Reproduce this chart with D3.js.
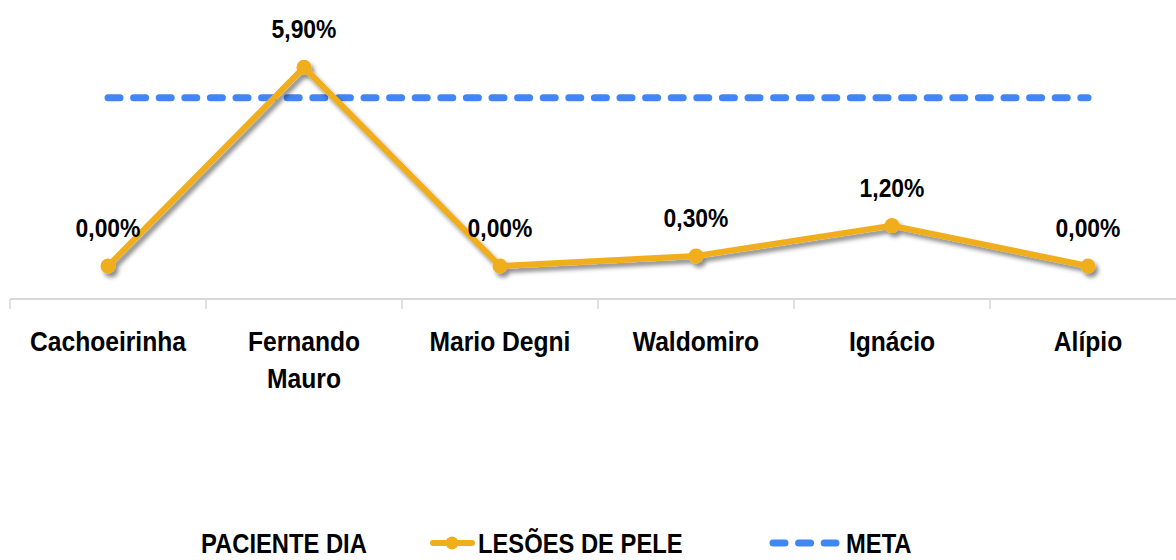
<!DOCTYPE html>
<html lang="pt">
<head>
<meta charset="utf-8">
<script src="https://d3js.org/d3.v7.min.js"></script>
<style>
  body { margin: 0; background: #fff; }
  text { font-family: "Liberation Sans", Arial, sans-serif; font-weight: bold; fill: #000; }
</style>
</head>
<body>
<svg width="1176" height="560"></svg>
<script>
// data
var categories = ["Cachoeirinha", "Fernando Mauro", "Mario Degni", "Waldomiro", "Ignácio", "Alípio"];
var lesoes = [0.0, 5.9, 0.0, 0.3, 1.2, 0.0];
var meta = 5.0;
var legendLabels = ["PACIENTE DIA", "LESÕES DE PELE", "META"];

var svg = d3.select("svg");
var gold = "#F0AE1C", blue = "#4285F4";
var narrow = 0.88; // fake a narrow font

var x = d3.scaleBand().domain(categories).range([10, 1186]);
var y = d3.scaleLinear().domain([0, 6]).range([266, 64]);
var cx = function(d) { return x(d) + x.bandwidth() / 2; };

// narrow text helper
function ntext(px, py, str, size, anchor) {
  return svg.append("g")
      .attr("transform", "translate(" + px + "," + py + ") scale(" + narrow + ",1)")
    .append("text")
      .attr("text-anchor", anchor || "middle")
      .attr("font-size", size)
      .text(str);
}

var defs = svg.append("defs");
defs.append("filter").attr("id", "shadow")
    .attr("x", "-10%").attr("y", "-10%").attr("width", "120%").attr("height", "130%")
  .append("feDropShadow")
    .attr("dx", 3).attr("dy", 4).attr("stdDeviation", 2)
    .attr("flood-color", "#000").attr("flood-opacity", 0.45);

// axis line + ticks at band boundaries
svg.append("line")
    .attr("x1", 10).attr("x2", 1176).attr("y1", 299).attr("y2", 299)
    .attr("stroke", "#d9d9d9").attr("stroke-width", 2);
var bounds = categories.map(function(d) { return x(d); });
svg.selectAll(".tick").data(bounds).enter().append("line")
    .attr("x1", function(d) { return d; }).attr("x2", function(d) { return d; })
    .attr("y1", 299).attr("y2", 309)
    .attr("stroke", "#d9d9d9").attr("stroke-width", 1.5);

// category labels
categories.forEach(function(d) {
  var words = d === "Fernando Mauro" ? ["Fernando", "Mauro"] : [d];
  words.forEach(function(w, i) {
    ntext(cx(d), 351 + i * 37, w, 28);
  });
});

// meta line
svg.append("line")
    .attr("x1", cx(categories[0])).attr("x2", cx(categories[5]))
    .attr("y1", y(meta)).attr("y2", y(meta))
    .attr("stroke", blue).attr("stroke-width", 7)
    .attr("stroke-linecap", "round")
    .attr("stroke-dasharray", "12 13.6");

// lesoes line
var line = d3.line()
    .x(function(d, i) { return cx(categories[i]); })
    .y(function(d) { return y(d); });

var lg = svg.append("g").attr("filter", "url(#shadow)");
lg.append("path")
    .datum(lesoes)
    .attr("d", line)
    .attr("fill", "none")
    .attr("stroke", gold).attr("stroke-width", 6)
    .attr("stroke-linejoin", "round");
lg.selectAll("circle").data(lesoes).enter().append("circle")
    .attr("cx", function(d, i) { return cx(categories[i]); })
    .attr("cy", function(d) { return y(d); })
    .attr("r", 7.5)
    .attr("fill", gold);

// value labels
lesoes.forEach(function(d, i) {
  ntext(cx(categories[i]), y(d) - 29, d.toFixed(2).replace(".", ",") + "%", 26);
});

// legend
var ly = 553;
ntext(201, ly, legendLabels[0], 27, "start");

svg.append("line").attr("x1", 433).attr("x2", 472).attr("y1", ly - 10).attr("y2", ly - 10)
    .attr("stroke", gold).attr("stroke-width", 6).attr("stroke-linecap", "round");
svg.append("circle").attr("cx", 452).attr("cy", ly - 10).attr("r", 6.5).attr("fill", gold);
ntext(478, ly, legendLabels[1], 27, "start");

svg.append("line").attr("x1", 773).attr("x2", 836).attr("y1", ly - 10).attr("y2", ly - 10)
    .attr("stroke", blue).attr("stroke-width", 7).attr("stroke-linecap", "round")
    .attr("stroke-dasharray", "12 13.6");
ntext(846, ly, legendLabels[2], 27, "start");
</script>
</body>
</html>
